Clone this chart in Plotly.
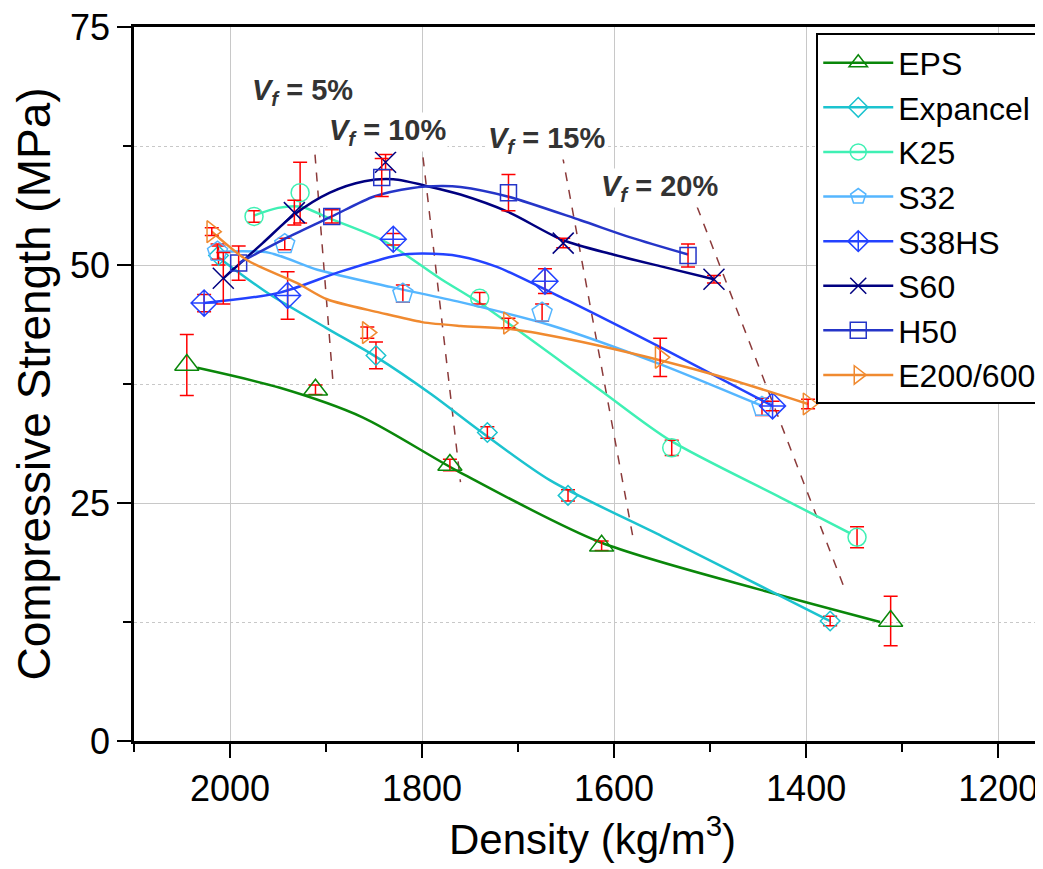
import plotly.graph_objects as go

# measured points: density (kg/m3), strength (MPa), error
eps_x = [2045, 1911, 1771, 1613, 1312]
eps_y = [39.5, 36.9, 29.0, 20.5, 12.6]
eps_err = [3.2, 0.5, 0.6, 0.5, 2.6]
eps_fit_x = [2034, 1948, 1862, 1762, 1615, 1441, 1323]
eps_fit_y = [39.2, 37.1, 34.0, 28.3, 20.9, 15.7, 12.5]

exp_x = [2012, 1848, 1732, 1648, 1375]
exp_y = [51.0, 40.5, 32.4, 25.8, 12.6]
exp_err = [1.0, 1.4, 0.6, 0.6, 0.5]
exp_fit_x = [2012, 1960, 1900, 1847, 1790, 1740, 1667, 1550, 1440, 1375]
exp_fit_y = [50.8, 47.0, 43.4, 40.3, 36.4, 32.6, 27.4, 21.5, 15.9, 12.6]

k25_x = [1975, 1927, 1740, 1540, 1347]
k25_y = [55.1, 57.6, 46.5, 30.8, 21.4]
k25_err = [0.6, 3.2, 0.6, 0.8, 1.1]
k25_fit_x = [1975, 1950, 1925, 1899, 1841, 1780, 1740, 1615, 1542, 1427, 1354]
k25_fit_y = [55.2, 56.0, 56.1, 55.0, 52.6, 48.5, 46.0, 36.9, 31.6, 25.6, 21.8]

s32_x = [2013, 1943, 1820, 1675, 1446]
s32_y = [51.4, 52.2, 47.0, 45.0, 35.1]
s32_err = [0.8, 0.6, 0.9, 0.9, 0.9]
s32_fit_x = [2013, 1960, 1909, 1833, 1760, 1667, 1555, 1446]
s32_fit_y = [51.4, 51.3, 49.5, 47.7, 46.1, 43.7, 39.7, 35.2]

s38_x = [2027, 1940, 1830, 1672, 1435]
s38_y = [46.0, 46.8, 52.7, 48.3, 35.2]
s38_err = [0.9, 2.5, 0.6, 1.3, 0.5]
s38_fit_x = [2027, 1948, 1885, 1826, 1800, 1760, 1722, 1649, 1545, 1435]
s38_fit_y = [46.0, 47.1, 49.3, 51.0, 51.2, 50.9, 49.8, 46.3, 41.0, 35.2]

s60_x = [2007, 1933, 1838, 1653, 1496]
s60_y = [48.6, 55.5, 60.8, 52.3, 48.5]
s60_err = [2.7, 1.3, 0.8, 0.5, 0.4]
s60_fit_x = [2007, 1966, 1933, 1896, 1860, 1830, 1791, 1760, 1711, 1653, 1601, 1549, 1496]
s60_fit_y = [48.6, 52.3, 55.3, 57.6, 58.8, 59.0, 58.2, 57.4, 55.6, 52.6, 51.1, 49.8, 48.5]

h50_x = [1991, 1894, 1842, 1710, 1523]
h50_y = [50.2, 55.1, 59.2, 57.6, 51.0]
h50_err = [1.8, 0.7, 2.0, 1.9, 1.2]
h50_fit_x = [1991, 1940, 1894, 1850, 1810, 1780, 1760, 1711, 1635, 1583, 1523]
h50_fit_y = [50.2, 52.9, 55.1, 57.2, 58.1, 58.3, 58.2, 57.2, 54.7, 52.9, 51.1]

e200_x = [2019, 1857, 1710, 1552, 1398]
e200_y = [53.5, 42.9, 43.9, 40.3, 35.4]
e200_err = [0.4, 0.6, 0.5, 2.0, 0.5]
e200_fit_x = [2019, 1982, 1930, 1899, 1844, 1800, 1760, 1710, 1667, 1597, 1493, 1398]
e200_fit_y = [53.5, 50.5, 48.1, 46.4, 45.0, 44.0, 43.6, 43.3, 42.6, 41.1, 38.4, 35.4]

# volume fraction guide lines
vf_labels = ['5%', '10%', '15%', '20%']
vf_line_x = [[1911.5, 1892.7], [1799, 1760], [1654, 1580], [1513.5, 1361.5]]
vf_line_y = [[61.6, 37.6], [61.3, 27.2], [61.6, 21.2], [56.1, 16.4]]
vf_text_x = [1925, 1836, 1670, 1553]
vf_text_y = [68.2, 64.0, 63.1, 58.1]

series = [
    ('EPS', eps_x, eps_y, eps_err, eps_fit_x, eps_fit_y, '#0A870A', 'triangle-up-open', 21),
    ('Expancel', exp_x, exp_y, exp_err, exp_fit_x, exp_fit_y, '#1CC3CF', 'diamond-open', 15),
    ('K25', k25_x, k25_y, k25_err, k25_fit_x, k25_fit_y, '#3FF0B4', 'circle-open', 18),
    ('S32', s32_x, s32_y, s32_err, s32_fit_x, s32_fit_y, '#55B6FF', 'pentagon-open', 21),
    ('S38HS', s38_x, s38_y, s38_err, s38_fit_x, s38_fit_y, '#2342FF', 'diamond-cross-open', 20),
    ('S60', s60_x, s60_y, s60_err, s60_fit_x, s60_fit_y, '#000080', 'x-thin-open', 21),
    ('H50', h50_x, h50_y, h50_err, h50_fit_x, h50_fit_y, '#2535C8', 'square-open', 16),
    ('E200/600', e200_x, e200_y, e200_err, e200_fit_x, e200_fit_y, '#F08A30', 'triangle-right-open', 19),
]

FONT = 'Liberation Sans, Arial, sans-serif'

fig = go.Figure()

for xs, ys in zip(vf_line_x, vf_line_y):
    fig.add_trace(go.Scatter(x=xs, y=ys, mode='lines', showlegend=False, hoverinfo='skip',
                             line=dict(color='#8B3A3A', width=1.5, dash='dash')))

for name, x, y, err, fx, fy, color, symbol, size in series:
    fig.add_trace(go.Scatter(x=fx, y=fy, mode='lines', line=dict(color=color, width=2.5, shape='spline',
                                                                  smoothing=0.8),
                             showlegend=False, legendgroup=name, hoverinfo='skip'))
    fig.add_trace(go.Scatter(x=x, y=y, mode='markers', showlegend=False, legendgroup=name, name=name,
                             marker=dict(symbol=symbol, size=size, color=color, line=dict(color=color, width=1.5)),
                             error_y=dict(type='data', array=err, color='#FF0000', thickness=1.5, width=7)))
    # legend entry showing line + marker
    fig.add_trace(go.Scatter(x=[None], y=[None], mode='lines+markers', name=name, legendgroup=name,
                             line=dict(color=color, width=2.5),
                             marker=dict(symbol=symbol, size=size, color=color, line=dict(color=color, width=1.5))))

for lab, tx, ty in zip(vf_labels, vf_text_x, vf_text_y):
    fig.add_annotation(x=tx, y=ty, xref='x', yref='y', showarrow=False,
                       text=f'<b><i>V</i><sub><i>f</i></sub> = {lab}</b>',
                       font=dict(family=FONT, size=29, color='#333333'), bgcolor='white')

fig.update_xaxes(range=[2100, 1145], tick0=2000, dtick=200, ticks='outside', ticklen=14, tickwidth=2,
                 tickcolor='black', showline=True, linecolor='black', linewidth=3, mirror=True,
                 showgrid=True, gridcolor='#C8C8C8', gridwidth=1.2, zeroline=False, automargin=False,
                 ticklabeloverflow='allow',
                 minor=dict(dtick=100, ticks='outside', ticklen=8, tickwidth=2, tickcolor='black', showgrid=False),
                 tickfont=dict(family=FONT, size=36, color='black'),
                 title=dict(text='Density (kg/m<sup>3</sup>)', font=dict(family=FONT, size=42, color='black'),
                            standoff=13))
fig.update_yaxes(range=[0, 75], tick0=0, dtick=25, ticks='outside', ticklen=14, tickwidth=2,
                 tickcolor='black', showline=True, linecolor='black', linewidth=2.5, automargin=False,
                 ticklabeloverflow='allow',
                 showgrid=True, gridcolor='#C8C8C8', gridwidth=1.2, zeroline=False,
                 minor=dict(dtick=12.5, ticks='outside', ticklen=8, tickwidth=1.5, tickcolor='black',
                            showgrid=True, gridcolor='#C8C8C8', griddash='dot', gridwidth=1.2),
                 tickfont=dict(family=FONT, size=36, color='black'),
                 title=dict(text='Compressive Strength (MPa)', font=dict(family=FONT, size=46, color='black'),
                            standoff=6))

fig.update_layout(width=1043, height=869, margin=dict(l=126, r=0, t=19, b=136),
                  plot_bgcolor='white', paper_bgcolor='white', font=dict(family=FONT),
                  legend=dict(x=0.744, y=0.991, xanchor='left', yanchor='top', bgcolor='white',
                              bordercolor='black', borderwidth=2, itemwidth=70,
                              font=dict(family=FONT, size=32, color='black'), tracegroupgap=0))

fig.write_html('out.html')
